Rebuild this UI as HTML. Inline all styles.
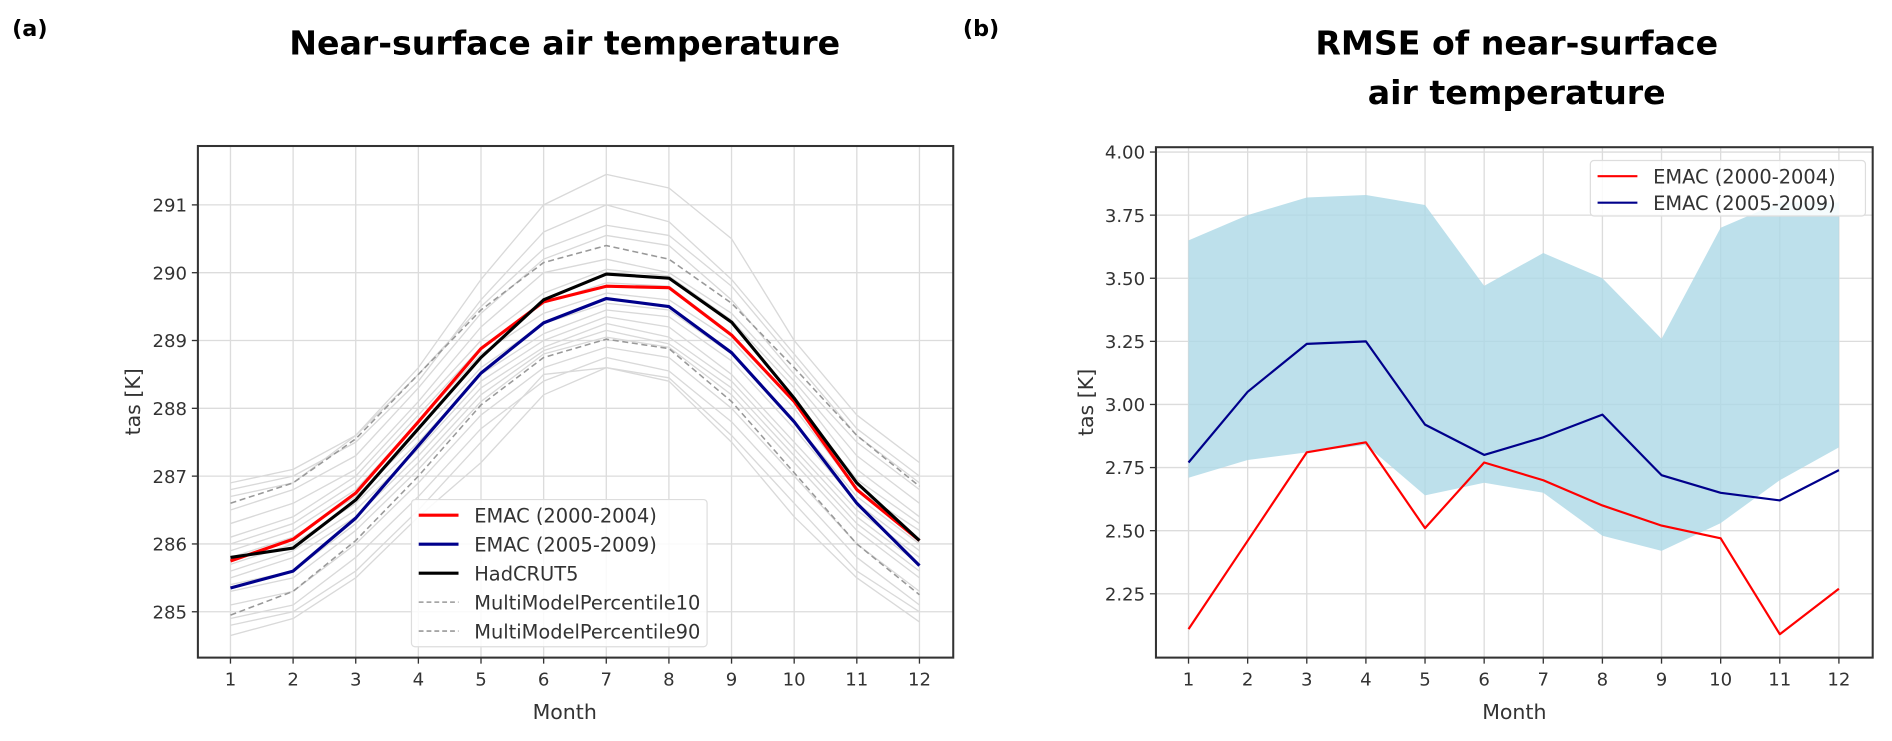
<!DOCTYPE html>
<html><head><meta charset="utf-8"><style>
body{margin:0;background:#fff;width:1892px;height:736px;overflow:hidden}
svg{font-family:"DejaVu Sans","Liberation Sans",sans-serif}
</style></head><body>
<svg id="s" width="1892" height="736" xmlns="http://www.w3.org/2000/svg">
<g transform="scale(1.20663)">
<text x="10" y="30" font-size="18.5" font-weight="bold">(a)</text>
<text x="468" y="45" font-size="27.5" font-weight="bold" text-anchor="middle">Near-surface air temperature</text>
<text x="798" y="30" font-size="18.5" font-weight="bold">(b)</text>
<text x="1257" y="45" font-size="27.5" font-weight="bold" text-anchor="middle">RMSE of near-surface</text>
<text x="1257" y="86" font-size="27.5" font-weight="bold" text-anchor="middle">air temperature</text>
<g id="ga"></g><g id="gb"></g>
</g>
</svg>
<script>
const months=[1,2,3,4,5,6,7,8,9,10,11,12];
const aTicks=[285,286,287,288,289,290,291];
const emac1=[285.75,286.07,286.75,287.8,288.88,289.57,289.8,289.78,289.08,288.1,286.8,286.05];
const emac2=[285.35,285.6,286.38,287.45,288.52,289.26,289.62,289.5,288.82,287.8,286.6,285.68];
const hadcrut=[285.8,285.94,286.65,287.7,288.75,289.6,289.98,289.92,289.27,288.15,286.9,286.05];
const p10=[284.95,285.3,286.05,287.0,288.05,288.75,289.02,288.88,288.1,287.05,286.0,285.25];
const p90=[286.6,286.9,287.55,288.5,289.45,290.15,290.4,290.2,289.55,288.6,287.6,286.85];
const models=[
[286.9,287.1,287.6,288.6,289.9,291.0,291.45,291.25,290.5,289.0,287.9,287.2],
[286.8,287.0,287.5,288.4,289.6,290.6,291.0,290.75,289.9,288.8,287.7,287.0],
[286.7,286.9,287.6,288.5,289.5,290.35,290.7,290.55,289.8,288.7,287.6,286.9],
[286.5,286.8,287.3,288.3,289.4,290.2,290.55,290.4,289.6,288.5,287.5,286.8],
[286.3,286.6,287.1,288.1,289.2,290.0,290.2,290.0,289.4,288.4,287.3,286.6],
[286.1,286.4,287.0,288.0,289.0,289.7,290.05,289.95,289.3,288.3,287.1,286.4],
[286.0,286.3,286.9,287.9,288.9,289.55,289.85,289.8,289.1,288.1,286.95,286.3],
[285.9,286.2,286.8,287.8,288.8,289.4,289.7,289.6,289.0,288.0,286.8,286.2],
[285.8,286.1,286.7,287.6,288.6,289.25,289.55,289.45,288.8,287.8,286.7,286.0],
[285.7,286.0,286.6,287.5,288.5,289.1,289.45,289.35,288.7,287.7,286.6,285.9],
[285.6,285.9,286.5,287.4,288.4,289.0,289.35,289.2,288.5,287.5,286.5,285.8],
[285.5,285.8,286.4,287.3,288.3,288.9,289.25,289.05,288.4,287.4,286.4,285.7],
[285.4,285.6,286.3,287.2,288.2,288.85,289.15,288.95,288.3,287.3,286.3,285.6],
[285.3,285.5,286.2,287.1,288.1,288.8,289.05,288.9,288.2,287.2,286.2,285.5],
[285.1,285.3,286.0,286.9,287.9,288.6,288.9,288.75,288.0,287.0,286.0,285.3],
[284.9,285.1,285.8,286.7,287.7,288.4,288.75,288.55,287.8,286.8,285.8,285.1],
[284.8,285.0,285.6,286.5,287.5,288.5,288.6,288.45,287.6,286.6,285.6,285.0],
[284.65,284.9,285.5,286.4,287.2,288.2,288.6,288.4,287.5,286.4,285.5,284.85]];
const bTicks=[2.25,2.5,2.75,3.0,3.25,3.5,3.75,4.0];
const rmse1=[2.11,2.46,2.81,2.85,2.51,2.77,2.70,2.60,2.52,2.47,2.09,2.27];
const rmse2=[2.77,3.05,3.24,3.25,2.92,2.80,2.87,2.96,2.72,2.65,2.62,2.74];
const bandHi=[3.65,3.75,3.82,3.83,3.79,3.47,3.60,3.50,3.26,3.70,3.80,3.80];
const bandLo=[2.71,2.78,2.81,2.84,2.64,2.69,2.65,2.48,2.42,2.53,2.70,2.83];

const NS="http://www.w3.org/2000/svg";
function mk(p,t,a){const e=document.createElementNS(NS,t);for(const k in a)e.setAttribute(k,a[k]);p.appendChild(e);return e;}
function pts(xs,ys,X,Y){return xs.map((m,i)=>X(m).toFixed(1)+","+Y(ys[i]).toFixed(1)).join(" ");}

function axes(g,L,R,T,B,X,Y,yt,fmt,ylx,cx,nm){
  months.forEach(m=>{const l=mk(g,"line",{x1:X(m),x2:X(m),y1:T,y2:B,stroke:"#dcdcdc","stroke-width":1.1});
    
    mk(g,"line",{x1:X(m),x2:X(m),y1:B,y2:B+5,stroke:"#333","stroke-width":1.1});
    const t=mk(g,"text",{x:X(m),y:B+23,"font-size":15,fill:"#333","text-anchor":"middle"});t.textContent=m;
    });
  yt.forEach(v=>{const l=mk(g,"line",{x1:L,x2:R,y1:Y(v),y2:Y(v),stroke:"#dcdcdc","stroke-width":1.1});
    
    mk(g,"line",{x1:L-5,x2:L,y1:Y(v),y2:Y(v),stroke:"#333","stroke-width":1.1});
    const t=mk(g,"text",{x:L-9,y:Y(v)+5.5,"font-size":15,fill:"#333","text-anchor":"end"});t.textContent=fmt(v);
    });
  const xl=mk(g,"text",{x:cx,y:B+51,"font-size":17,fill:"#333","text-anchor":"middle"});xl.textContent="Month";
  
  const yl=mk(g,"text",{x:ylx,y:(T+B)/2,"font-size":17,fill:"#333","text-anchor":"middle",transform:`rotate(-90 ${ylx} ${(T+B)/2})`});yl.textContent="tas [K]";
  
}
function frame(g,L,R,T,B){const f=mk(g,"rect",{x:L,y:T,width:R-L,height:B-T,fill:"none",stroke:"#333","stroke-width":1.7});
  }
function line(g,xs,ys,X,Y,col,w,dash,name){const p=mk(g,"polyline",{points:pts(xs,ys,X,Y),fill:"none",stroke:col,"stroke-width":w,"stroke-linejoin":"round"});
  if(dash)p.setAttribute("stroke-dasharray",dash);
  return p;}
function legend(g,x,y,w,sp,items){const r=mk(g,"rect",{x:x,y:y,width:w,height:items.length*sp+2,fill:"#fff","fill-opacity":0.85,stroke:"#ddd",rx:3});
  
  items.forEach((it,i)=>{const yy=y+13+i*sp;
    const l=mk(g,"line",{x1:x+6,x2:x+39,y1:yy,y2:yy,stroke:it[1],"stroke-width":it[2]});if(it[3])l.setAttribute("stroke-dasharray",it[3]);
    const t=mk(g,"text",{x:x+52,y:yy+6,"font-size":16.1,fill:"#333"});t.textContent=it[0];
    });}

// Panel a
{const g=document.getElementById("ga");const L=164,R=790,T=121,B=545;
 const X=m=>191+(m-1)*(762-191)/11, Y=v=>507-(v-285)*56.2;
 axes(g,L,R,T,B,X,Y,aTicks,v=>v,116,468,"panel-a");
 models.forEach(md=>line(g,months,md,X,Y,"#d9d9d9",1.1,null,"model-line"));
 line(g,months,p10,X,Y,"#999",1.3,"5,3","percentile10-line");
 line(g,months,p90,X,Y,"#999",1.3,"5,3","percentile90-line");
 line(g,months,emac2,X,Y,"#00008b",2.6,null,"emac-2005-2009-line");
 line(g,months,emac1,X,Y,"#ff0000",2.6,null,"emac-2000-2004-line");
 line(g,months,hadcrut,X,Y,"#000",2.6,null,"hadcrut5-line");
 frame(g,L,R,T,B);
 legend(g,341,414,245,24,[["EMAC (2000-2004)","#ff0000",2.6],["EMAC (2005-2009)","#00008b",2.6],["HadCRUT5","#000",2.6],["MultiModelPercentile10","#999",1.3,"4,2.5"],["MultiModelPercentile90","#999",1.3,"4,2.5"]]);}
// Panel b
{const g=document.getElementById("gb");const L=958,R=1552,T=122,B=545;
 const X=m=>985+(m-1)*(1524-985)/11, Y=v=>126+(4-v)*209.2;
 axes(g,L,R,T,B,X,Y,bTicks,v=>v.toFixed(2),906,1255,"panel-b");
 const poly=months.map((m,i)=>X(m).toFixed(1)+","+Y(bandHi[i]).toFixed(1)).concat(months.slice().reverse().map((m,j)=>X(m).toFixed(1)+","+Y(bandLo[11-j]).toFixed(1))).join(" ");
 const band=mk(g,"polygon",{points:poly,fill:"#add8e6","fill-opacity":0.8});
 
 line(g,months,rmse1,X,Y,"#ff0000",1.8,null,"rmse-emac-2000-2004-line");
 line(g,months,rmse2,X,Y,"#00008b",1.8,null,"rmse-emac-2005-2009-line");
 frame(g,L,R,T,B);
 legend(g,1318,133,228,22,[["EMAC (2000-2004)","#ff0000",1.8],["EMAC (2005-2009)","#00008b",1.8]]);}
</script>
</body></html>
